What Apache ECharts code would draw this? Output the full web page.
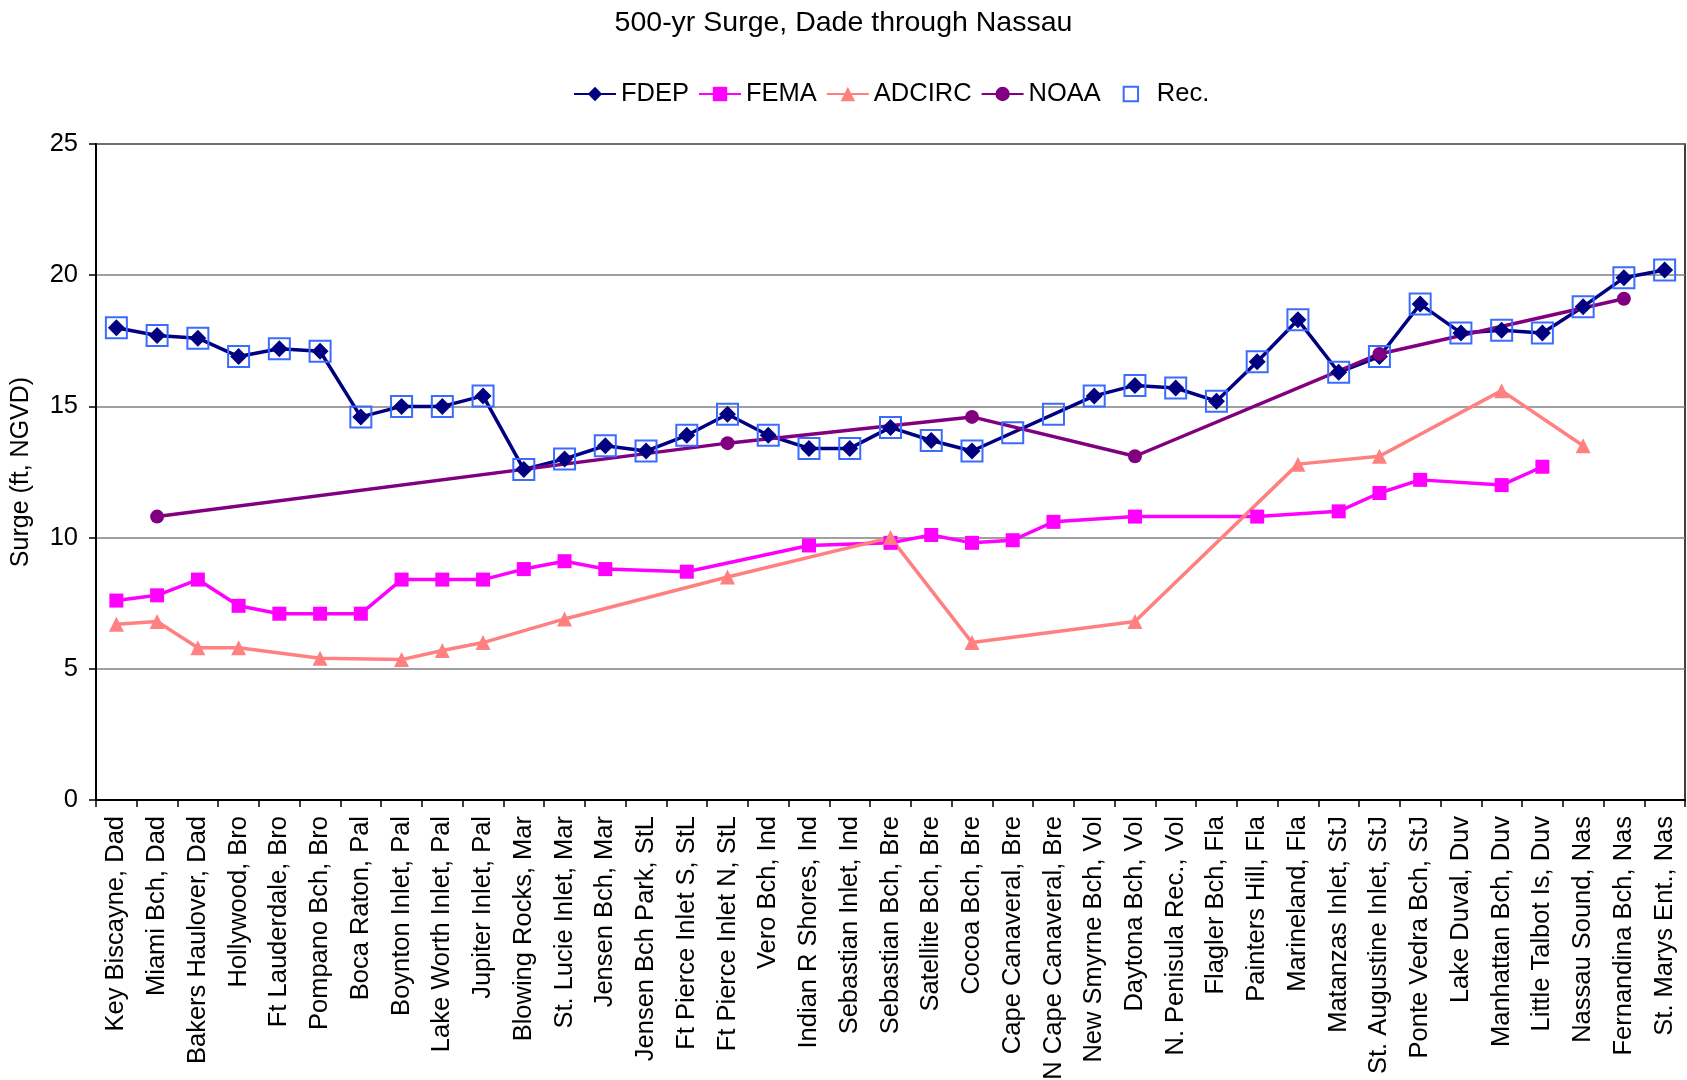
<!DOCTYPE html>
<html>
<head>
<meta charset="utf-8">
<title>500-yr Surge</title>
<script src="https://cdn.jsdelivr.net/npm/echarts@6/dist/echarts.min.js"></script>
<style>
  html, body { margin: 0; padding: 0; background: #fff; }
  #chart { width: 1687px; height: 1080px; }
</style>
</head>
<body>
<div id="chart"></div>
<script>
const categories = [
  "Key Biscayne, Dad", "Miami Bch, Dad", "Bakers Haulover, Dad", "Hollywood, Bro",
  "Ft Lauderdale, Bro", "Pompano Bch, Bro", "Boca Raton, Pal", "Boynton Inlet, Pal",
  "Lake Worth Inlet, Pal", "Jupiter Inlet, Pal", "Blowing Rocks, Mar", "St. Lucie Inlet, Mar",
  "Jensen Bch, Mar", "Jensen Bch Park, StL", "Ft Pierce Inlet S, StL", "Ft Pierce Inlet N, StL",
  "Vero Bch, Ind", "Indian R Shores, Ind", "Sebastian Inlet, Ind", "Sebastian Bch, Bre",
  "Satellite Bch, Bre", "Cocoa Bch, Bre", "Cape Canaveral, Bre", "N Cape Canaveral, Bre",
  "New Smyrne Bch, Vol", "Daytona Bch, Vol", "N. Penisula Rec., Vol", "Flagler Bch, Fla",
  "Painters Hill, Fla", "Marineland, Fla", "Matanzas Inlet, StJ", "St. Augustine Inlet, StJ",
  "Ponte Vedra Bch, StJ", "Lake Duval, Duv", "Manhattan Bch, Duv", "Little Talbot Is, Duv",
  "Nassau Sound, Nas", "Fernandina Bch, Nas", "St. Marys Ent., Nas"
];

const fdep = [
  18.0, 17.7, 17.6, 16.9, 17.2, 17.1, 14.6, 15.0, 15.0, 15.4,
  12.6, 13.0, 13.5, 13.3, 13.9, 14.7, 13.9, 13.4, 13.4, 14.2,
  13.7, 13.3, null, null, 15.4, 15.8, 15.7, 15.2, 16.7, 18.3,
  16.3, 16.9, 18.9, 17.8, 17.9, 17.8, 18.8, 19.9, 20.2
];

const fema = [
  7.6, 7.8, 8.4, 7.4, 7.1, 7.1, 7.1, 8.4, 8.4, 8.4,
  8.8, 9.1, 8.8, null, 8.7, null, null, 9.7, null, 9.8,
  10.1, 9.8, 9.9, 10.6, null, 10.8, null, null, 10.8, null,
  11.0, 11.7, 12.2, null, 12.0, 12.7, null, null, null
];

const adcirc = [
  6.7, 6.8, 5.8, 5.8, null, 5.4, null, 5.35, 5.7, 6.0,
  null, 6.9, null, null, null, 8.5, null, null, null, 10.0,
  null, 6.0, null, null, null, 6.8, null, null, null, 12.8,
  null, 13.1, null, null, 15.6, null, 13.5, null, null
];

const noaa = [
  null, 10.8, null, null, null, null, null, null, null, null,
  null, null, null, null, null, 13.6, null, null, null, null,
  null, 14.6, null, null, null, 13.1, null, null, null, null,
  null, 17.0, null, null, null, null, null, 19.1, null
];

const rec = [
  18.0, 17.7, 17.6, 16.9, 17.2, 17.1, 14.6, 15.0, 15.0, 15.4,
  12.6, 13.0, 13.5, 13.3, 13.9, 14.7, 13.9, 13.4, 13.4, 14.2,
  13.7, 13.3, 14.0, 14.7, 15.4, 15.8, 15.7, 15.2, 16.7, 18.3,
  16.3, 16.9, 18.9, 17.8, 17.9, 17.8, 18.8, 19.9, 20.2
];

const yTicks = [0, 5, 10, 15, 20, 25];

const font = "Liberation Sans, Arial, Helvetica, sans-serif";

function lineSeries(name, data, color, symbol, size) {
  return {
    name: name,
    type: "line",
    data: data,
    connectNulls: true,
    symbol: symbol,
    symbolSize: size,
    showAllSymbol: true,
    lineStyle: { color: color, width: 3.5 },
    itemStyle: { color: color },
    emphasis: { disabled: true }
  };
}

const chart = echarts.init(document.getElementById("chart"));

chart.setOption({
  animation: false,
  backgroundColor: "#fff",
  title: {
    text: "500-yr Surge, Dade through Nassau",
    left: "center",
    top: 4,
    textStyle: { fontFamily: font, fontSize: 28.5, fontWeight: "normal", color: "#000" }
  },
  legend: {
    left: 568,
    top: 76,
    itemWidth: 42,
    itemHeight: 18,
    itemGap: 9,
    textStyle: { fontFamily: font, fontSize: 25.5, color: "#000" },
    data: ["FDEP", "FEMA", "ADCIRC", "NOAA", "Rec."]
  },
  grid: {
    left: 96,
    right: 2,
    top: 144,
    bottom: 280,
    outerBoundsMode: "none",
    show: true,
    borderColor: "#000",
    borderWidth: 1.5
  },
  xAxis: {
    type: "category",
    data: categories,
    boundaryGap: true,
    axisLine: { lineStyle: { color: "#000", width: 2 } },
    axisTick: { show: true, length: 7, lineStyle: { color: "#000", width: 1.5 } },
    axisLabel: {
      interval: 0,
      rotate: 90,
      margin: 16,
      fontFamily: font,
      fontSize: 25.5,
      color: "#000"
    },
    splitLine: { show: false }
  },
  yAxis: {
    type: "value",
    min: yTicks[0],
    max: yTicks[yTicks.length - 1],
    interval: 5,
    name: "Surge (ft, NGVD)",
    nameLocation: "middle",
    nameGap: 62,
    nameTextStyle: { fontFamily: font, fontSize: 25, color: "#000" },
    axisLine: { show: true, lineStyle: { color: "#000", width: 2 } },
    axisTick: { show: true, length: 7, lineStyle: { color: "#000", width: 1.5 } },
    axisLabel: { margin: 18, fontFamily: font, fontSize: 25.5, color: "#000" },
    splitLine: { show: true, lineStyle: { color: "#808080", width: 1.5 } }
  },
  series: [
    lineSeries("FDEP", fdep, "#000080", "diamond", 17),
    lineSeries("FEMA", fema, "#ff00ff", "rect", 14),
    lineSeries("ADCIRC", adcirc, "#ff8080", "triangle", 15),
    lineSeries("NOAA", noaa, "#800080", "circle", 14),
    {
      name: "Rec.",
      type: "line",
      data: rec,
      symbol: "rect",
      symbolSize: 21,
      showAllSymbol: true,
      lineStyle: { width: 0, opacity: 0 },
      itemStyle: { color: "rgba(0,0,0,0)", borderColor: "#3a6cff", borderWidth: 2 },
      emphasis: { disabled: true },
      z: 5
    }
  ]
});
</script>
</body>
</html>
